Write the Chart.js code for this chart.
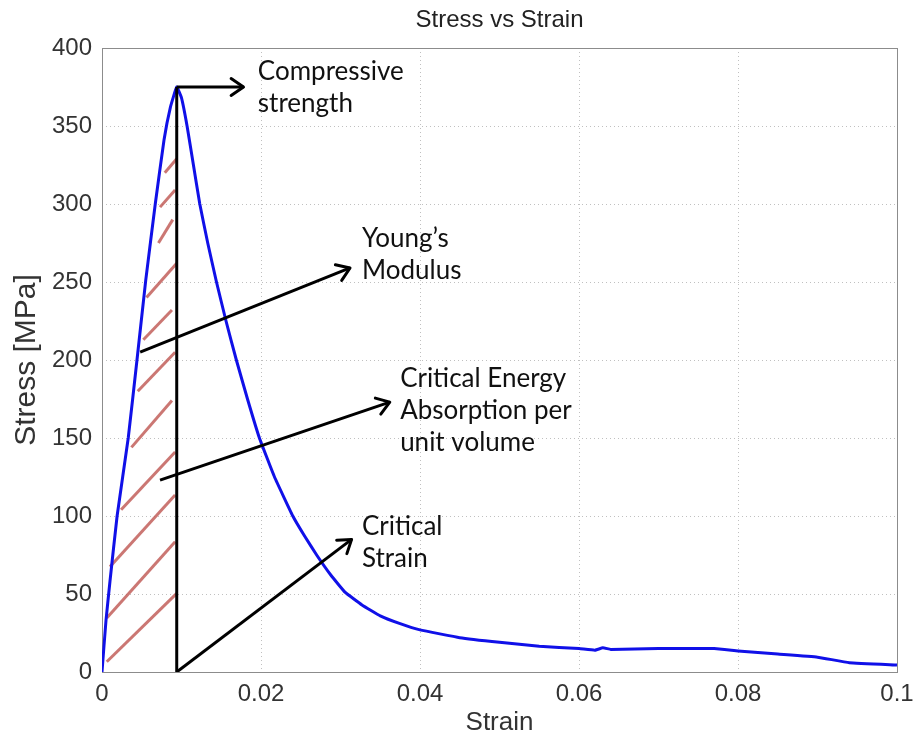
<!DOCTYPE html>
<html>
<head>
<meta charset="utf-8">
<script src="https://cdn.jsdelivr.net/npm/chart.js@4.4.1/dist/chart.umd.min.js"></script>
<style>
  html, body { margin: 0; padding: 0; background: #fff; }
  #wrap { width: 918px; height: 742px; }
</style>
</head>
<body>
<div id="wrap"><canvas id="stress-chart" width="918" height="742"></canvas></div>
<script>
// measured curve
const strain = [0, 0.0005, 0.001, 0.0019, 0.0033, 0.0044, 0.0055, 0.0067, 0.0078, 0.0086, 0.0094,
                0.0100, 0.0107, 0.0115, 0.0123, 0.0133, 0.0144, 0.0156, 0.0169, 0.0183, 0.0198,
                0.0217, 0.024, 0.0255, 0.027, 0.0288, 0.0306, 0.0327, 0.035, 0.0375, 0.04,
                0.045, 0.05, 0.055, 0.06, 0.062, 0.063, 0.064, 0.07, 0.077, 0.08,
                0.085, 0.09, 0.094, 0.1];
const stress = [0, 33, 58, 100, 150, 200, 251, 300, 341, 362, 375,
                368, 350, 325, 300, 275, 250, 225, 200, 175, 150,
                125, 100, 87, 75, 62, 51, 43, 36, 31, 27,
                22, 19, 16.5, 15, 14, 15.5, 14.5, 15, 15, 13.5,
                11.5, 9.5, 6, 4.5];

const xTicks = [0, 0.02, 0.04, 0.06, 0.08, 0.1];
const yTicks = [0, 50, 100, 150, 200, 250, 300, 350, 400];

// hatching under the rising part
const hatchX1 = [0.0006, 0.0006, 0.0010, 0.0024, 0.0037, 0.0045, 0.0052, 0.0056, 0.0071, 0.0073, 0.0079];
const hatchY1 = [6.6, 34.6, 67.5, 104, 144, 180, 213, 240, 275, 298, 320];
const hatchX2 = [0.0094, 0.0092, 0.0092, 0.0092, 0.0088, 0.0092, 0.0088, 0.0094, 0.0089, 0.0092, 0.0094];
const hatchY2 = [50.4, 83.5, 113.5, 141, 174, 205, 232, 262, 290, 309, 329];

// critical strain line
const critX = [0.0094, 0.0094];
const critY = [0, 375];

// annotation arrows
const arrowX1 = [0.0094, 0.0048, 0.0073, 0.0094];
const arrowY1 = [375, 205, 123, 0];
const arrowX2 = [0.0178, 0.0312, 0.0362, 0.0314];
const arrowY2 = [375, 259, 173, 85];

// labels (left x, first line y)
const labelText = [["Compressive", "strength"], ["Young\u2019s", "Modulus"],
                   ["Critical Energy", "Absorption per", "unit volume"], ["Critical", "Strain"]];
const labelX = [0.0196, 0.0327, 0.0375, 0.0327];
const labelY = [385, 278, 188, 93];

const titleText = 'Stress vs Strain';

const datasets = [];
datasets.push({
    label: "Stress",
    data: strain.map((v, i) => ({x: v, y: stress[i]})),
    borderColor: "#1010e8",
    borderWidth: 3,
    pointRadius: 0,
    showLine: true,
    tension: 0.1,
    order: 1
});
for (let i = 0; i < hatchX1.length; i++) {
    datasets.push({
        data: [{x: hatchX1[i], y: hatchY1[i]}, {x: hatchX2[i], y: hatchY2[i]}],
        borderColor: "rgba(190,85,80,0.8)",
        borderWidth: 3,
        pointRadius: 0,
        showLine: true,
        order: 2
    });
}
datasets.push({
    data: critX.map((v, i) => ({x: v, y: critY[i]})),
    borderColor: "#000",
    borderWidth: 3,
    pointRadius: 0,
    showLine: true,
    order: 0
});
for (let i = 0; i < arrowX1.length; i++) {
    datasets.push({
        data: [{x: arrowX1[i], y: arrowY1[i]}, {x: arrowX2[i], y: arrowY2[i]}],
        borderColor: "#000",
        borderWidth: 3,
        pointRadius: 0,
        showLine: true,
        order: 0
    });
}

const extras = {
    id: "extras",
    beforeDatasetsDraw(chart) {
        const a = chart.chartArea, c = chart.ctx;
        c.save();
        c.strokeStyle = "#8c8c8c";
        c.lineWidth = 1;
        c.strokeRect(a.left + 0.5, a.top + 0.5, a.right - a.left, a.bottom - a.top);
        c.restore();
    },
    afterDatasetsDraw(chart) {
        const xs = chart.scales.x, ys = chart.scales.y, c = chart.ctx, a = chart.chartArea;
        c.save();
        c.strokeStyle = "#000";
        c.lineWidth = 3;
        c.lineCap = "round";
        c.lineJoin = "round";
        for (let i = 0; i < arrowX1.length; i++) {
            const x1 = xs.getPixelForValue(arrowX1[i]), y1 = ys.getPixelForValue(arrowY1[i]);
            const x2 = xs.getPixelForValue(arrowX2[i]), y2 = ys.getPixelForValue(arrowY2[i]);
            const ang = Math.atan2(y2 - y1, x2 - x1);
            const len = 15, spread = 0.6;
            c.beginPath();
            c.moveTo(x2 - len * Math.cos(ang - spread), y2 - len * Math.sin(ang - spread));
            c.lineTo(x2, y2);
            c.lineTo(x2 - len * Math.cos(ang + spread), y2 - len * Math.sin(ang + spread));
            c.stroke();
        }
        c.fillStyle = "#111";
        c.font = "26px Lato";
        c.textBaseline = "middle";
        c.textAlign = "left";
        for (let i = 0; i < labelText.length; i++) {
            const x = xs.getPixelForValue(labelX[i]), y = ys.getPixelForValue(labelY[i]);
            labelText[i].forEach((t, j) => c.fillText(t, x, y + j * 32));
        }
        // title centred over the plot
        c.fillStyle = "#222";
        c.font = "24px 'Liberation Sans'";
        c.textAlign = "center";
        c.fillText(titleText, (a.left + a.right) / 2, 20);
        c.restore();
    }
};

new Chart(document.getElementById("stress-chart"), {
    type: 'scatter',
    data: { datasets: datasets },
    options: {
        responsive: false,
        animation: false,
        layout: { padding: { left: 0, right: 21, top: 48, bottom: 0 } },
        plugins: {
            legend: { display: false },
            tooltip: { enabled: false },
            title: { display: false }
        },
        scales: {
            x: {
                type: 'linear',
                min: 0,
                max: 0.1,
                afterBuildTicks: s => { s.ticks = xTicks.map(v => ({value: v})); },
                afterFit: s => { s.height = 70; s.paddingLeft = 0; s.paddingRight = 0; },
                ticks: {
                    color: '#333',
                    padding: 8,
                    maxRotation: 0,
                    font: { family: 'Liberation Sans', size: 24 },
                    callback: v => String(+v.toFixed(2))
                },
                grid: { color: '#c0c0c0', drawTicks: false },
                border: { display: false, dash: [1, 3] },
                title: {
                    display: true,
                    text: 'Strain',
                    color: '#333',
                    font: { family: 'Liberation Sans', size: 26 },
                    padding: { top: 4, bottom: 4 }
                }
            },
            y: {
                type: 'linear',
                min: 0,
                max: 400,
                afterBuildTicks: s => { s.ticks = yTicks.map(v => ({value: v})); },
                afterFit: s => { s.width = 102; },
                ticks: {
                    color: '#333',
                    padding: 10,
                    font: { family: 'Liberation Sans', size: 24 }
                },
                grid: { color: '#c0c0c0', drawTicks: false },
                border: { display: false, dash: [1, 3] },
                title: {
                    display: true,
                    text: 'Stress [MPa]',
                    color: '#333',
                    font: { family: 'Liberation Sans', size: 30 },
                    padding: { top: 9, bottom: 0 }
                }
            }
        }
    },
    plugins: [extras]
});
</script>
</body>
</html>
